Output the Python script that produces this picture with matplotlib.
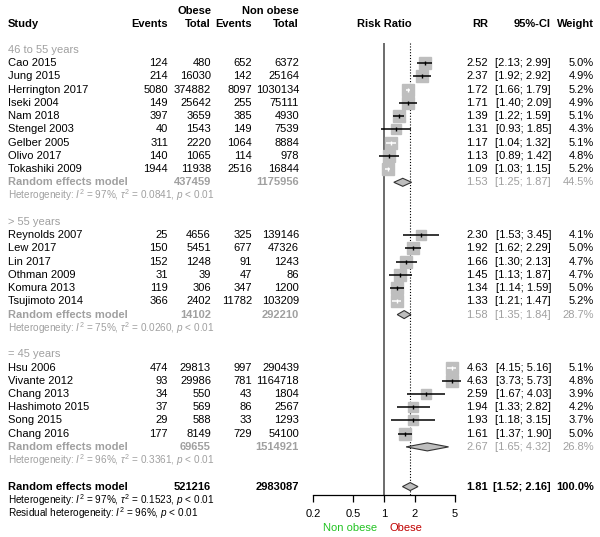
import numpy as np
import matplotlib
matplotlib.use("Agg")
import matplotlib.pyplot as plt

plt.rcParams['font.family'] = ['Liberation Sans', 'DejaVu Sans']
plt.rcParams['mathtext.fontset'] = 'custom'
plt.rcParams['mathtext.rm'] = 'Liberation Sans'
plt.rcParams['mathtext.it'] = 'Liberation Sans:italic'
plt.rcParams['mathtext.bf'] = 'Liberation Sans:bold'

# ---- data ----
group_labels = ['46 to 55 years', '> 55 years', '= 45 years']

studies = [
    ['Cao 2015', 'Jung 2015', 'Herrington 2017', 'Iseki 2004', 'Nam 2018',
     'Stengel 2003', 'Gelber 2005', 'Olivo 2017', 'Tokashiki 2009'],
    ['Reynolds 2007', 'Lew 2017', 'Lin 2017', 'Othman 2009', 'Komura 2013',
     'Tsujimoto 2014'],
    ['Hsu 2006', 'Vivante 2012', 'Chang 2013', 'Hashimoto 2015', 'Song 2015',
     'Chang 2016'],
]
ev_obese = [[124, 214, 5080, 149, 397, 40, 311, 140, 1944],
            [25, 150, 152, 31, 119, 366],
            [474, 93, 34, 37, 29, 177]]
n_obese = [[480, 16030, 374882, 25642, 3659, 1543, 2220, 1065, 11938],
           [4656, 5451, 1248, 39, 306, 2402],
           [29813, 29986, 550, 569, 588, 8149]]
ev_non = [[652, 142, 8097, 255, 385, 149, 1064, 114, 2516],
          [325, 677, 91, 47, 347, 11782],
          [997, 781, 43, 86, 33, 729]]
n_non = [[6372, 25164, 1030134, 75111, 4930, 7539, 8884, 978, 16844],
         [139146, 47326, 1243, 86, 1200, 103209],
         [290439, 1164718, 1804, 2567, 1293, 54100]]
rr = [[2.52, 2.37, 1.72, 1.71, 1.39, 1.31, 1.17, 1.13, 1.09],
      [2.30, 1.92, 1.66, 1.45, 1.34, 1.33],
      [4.63, 4.63, 2.59, 1.94, 1.93, 1.61]]
lo = [[2.13, 1.92, 1.66, 1.40, 1.22, 0.93, 1.04, 0.89, 1.03],
      [1.53, 1.62, 1.30, 1.13, 1.14, 1.21],
      [4.15, 3.73, 1.67, 1.33, 1.18, 1.37]]
hi = [[2.99, 2.92, 1.79, 2.09, 1.59, 1.85, 1.32, 1.42, 1.15],
      [3.45, 2.29, 2.13, 1.87, 1.59, 1.47],
      [5.16, 5.73, 4.03, 2.82, 3.15, 1.90]]
weight = [[5.0, 4.9, 5.2, 4.9, 5.1, 4.3, 5.1, 4.8, 5.2],
          [4.1, 5.0, 4.7, 4.7, 5.0, 5.2],
          [5.1, 4.8, 3.9, 4.2, 3.7, 5.0]]

sub_n_obese = [437459, 14102, 69655]
sub_n_non = [1175956, 292210, 1514921]
sub_rr = [1.53, 1.58, 2.67]
sub_lo = [1.25, 1.35, 1.65]
sub_hi = [1.87, 1.84, 4.32]
sub_w = [44.5, 28.7, 26.8]
sub_i2 = [97, 75, 96]
sub_tau2 = ['0.0841', '0.0260', '0.3361']

all_n_obese, all_n_non = 521216, 2983087
all_rr, all_lo, all_hi = 1.81, 1.52, 2.16
all_i2, all_tau2, resid_i2 = 97, '0.1523', 96

xticks = [0.2, 0.5, 1, 2, 5]

# ---- layout (pixels from top-left) ----
W, H = 600, 537
y0, step = 50.0, 13.23
fs, fs_het = 8, 7.2
grey = '#A0A0A0'
box_col = '#BEBEBE'

x_study = 8
x_ev1, x_n1, x_ev2, x_n2 = 168, 211, 252, 299
x_rr, x_ci, x_w = 488, 551, 594

fig = plt.figure(figsize=(W / 100, H / 100), dpi=100)
tx = fig.add_axes([0, 0, 1, 1])
tx.set_xlim(0, W)
tx.set_ylim(H, 0)
tx.axis('off')

ax_bottom = 495
fx = fig.add_axes([313 / W, (H - ax_bottom) / H, 142 / W, ax_bottom / H])
fx.patch.set_alpha(0)
fx.set_xscale('log')
fx.set_xlim(0.2, 5)
fx.set_ylim(ax_bottom, 0)
for s in ['top', 'right', 'left']:
    fx.spines[s].set_visible(False)
fx.spines['bottom'].set_linewidth(0.9)
fx.set_yticks([])
fx.set_xticks(xticks)
fx.set_xticklabels(['%g' % t for t in xticks], fontsize=fs)
fx.minorticks_off()
fx.tick_params(axis='x', length=5, width=0.9, pad=5)


def put(x, y, s, ha='right', color='black', weight='normal', size=fs):
    tx.text(x, y, s, ha=ha, va='center', color=color, fontweight=weight,
            fontsize=size)


def het_text(i2, tau2):
    return (r'Heterogeneity: $I^2$ = %d%%, $\tau^2$ = %s, $p$ < 0.01'
            % (i2, tau2))


# headers
yh = y0 - 2 * step
put(x_n1, yh - step + 0.5, 'Obese', weight='bold')
put(x_n2, yh - step + 0.5, 'Non obese', weight='bold')
put(x_study, yh, 'Study', ha='left', weight='bold')
for x, s in [(x_ev1, 'Events'), (x_n1, 'Total'), (x_ev2, 'Events'),
             (x_n2, 'Total'), (x_rr, 'RR'), (x_ci, '95%-CI'),
             (x_w, 'Weight')]:
    put(x, yh, s, weight='bold')
put(384, yh, 'Risk Ratio', ha='center', weight='bold')

row = 0
for g in range(len(group_labels)):
    y = y0 + row * step
    put(x_study, y, group_labels[g], ha='left', color=grey)
    row += 1
    for k in range(len(studies[g])):
        y = y0 + row * step
        put(x_study, y, studies[g][k], ha='left')
        put(x_ev1, y, str(ev_obese[g][k]))
        put(x_n1, y, str(n_obese[g][k]))
        put(x_ev2, y, str(ev_non[g][k]))
        put(x_n2, y, str(n_non[g][k]))
        put(x_rr, y, '%.2f' % rr[g][k])
        put(x_ci, y, '[%.2f; %.2f]' % (lo[g][k], hi[g][k]))
        put(x_w, y, '%.1f%%' % weight[g][k])

        side = 11.5 * np.sqrt(weight[g][k] / 5.0)
        fx.plot(rr[g][k], y, marker='s', ms=side * 0.72, color=box_col,
                mec=box_col, clip_on=False, zorder=3)
        ci_px = (np.log10(hi[g][k]) - np.log10(lo[g][k])) * 101.6
        lc = 'white' if ci_px < side else 'black'
        fx.plot([lo[g][k], hi[g][k]], [y, y], color=lc, lw=1.1,
                clip_on=False, zorder=4, solid_capstyle='butt')
        fx.plot(rr[g][k], y, marker='|', ms=3.5, mew=1.0, color=lc,
                clip_on=False, zorder=5)
        row += 1

    y = y0 + row * step
    put(x_study, y, 'Random effects model', ha='left', color=grey,
        weight='bold')
    put(x_n1, y, str(sub_n_obese[g]), color=grey, weight='bold')
    put(x_n2, y, str(sub_n_non[g]), color=grey, weight='bold')
    put(x_rr, y, '%.2f' % sub_rr[g], color=grey)
    put(x_ci, y, '[%.2f; %.2f]' % (sub_lo[g], sub_hi[g]), color=grey)
    put(x_w, y, '%.1f%%' % sub_w[g], color=grey)
    fx.fill([sub_lo[g], sub_rr[g], sub_hi[g], sub_rr[g]],
            [y, y - 4, y, y + 4], facecolor=box_col, edgecolor='#333333',
            lw=0.8, clip_on=False, zorder=3)
    row += 1
    y = y0 + row * step
    put(x_study, y, het_text(sub_i2[g], sub_tau2[g]), ha='left', color=grey,
        size=fs_het)
    row += 2

y = y0 + row * step
put(x_study, y, 'Random effects model', ha='left', weight='bold')
put(x_n1, y, str(all_n_obese), weight='bold')
put(x_n2, y, str(all_n_non), weight='bold')
put(x_rr, y, '%.2f' % all_rr, weight='bold')
put(x_ci, y, '[%.2f; %.2f]' % (all_lo, all_hi), weight='bold')
put(x_w, y, '100.0%', weight='bold')
fx.fill([all_lo, all_rr, all_hi, all_rr], [y, y - 4, y, y + 4],
        facecolor=box_col, edgecolor='#333333', lw=0.8, clip_on=False,
        zorder=3)
put(x_study, y + step, het_text(all_i2, all_tau2), ha='left', size=fs_het)
put(x_study, y + 2 * step,
    r'Residual heterogeneity: $I^2$ = %d%%, $p$ < 0.01' % resid_i2,
    ha='left', size=fs_het)

# reference lines
y_top = y0 - 0.5 * step
fx.vlines(1, y_top, ax_bottom, color='#606060', lw=1.3, zorder=1)
fx.vlines(all_rr, y_top, ax_bottom, color='black', lw=0.8,
          linestyles=(0, (1, 1.6)), zorder=1)

# favours labels
put(350, 528, 'Non obese', ha='center', color='#22C322')
put(406, 528, 'Obese', ha='center', color='#C00000')

fig.savefig('out.png', dpi=100)
